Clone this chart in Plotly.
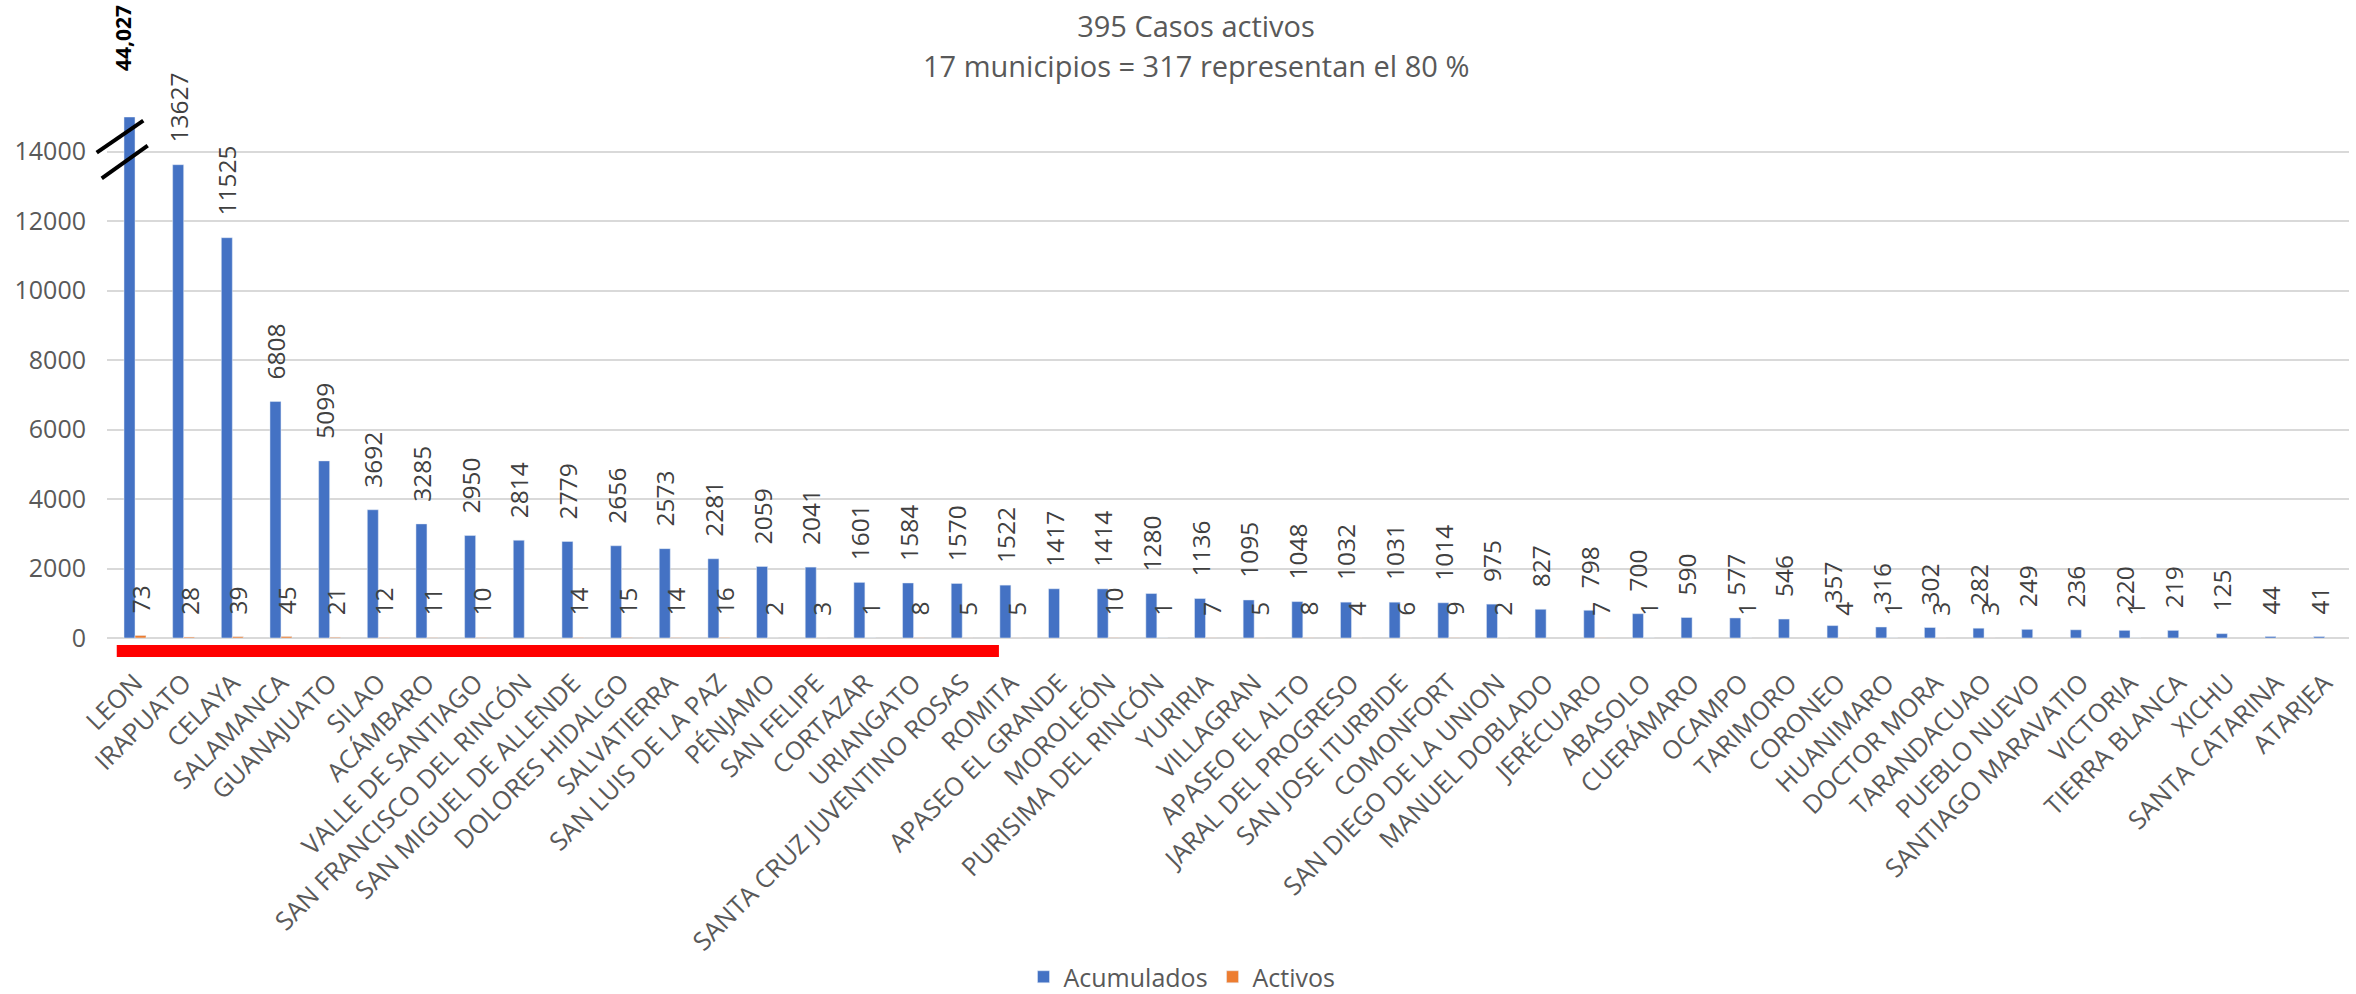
import plotly.graph_objects as go

# ---------------- data ----------------
municipios = [
    "LEON", "IRAPUATO", "CELAYA", "SALAMANCA", "GUANAJUATO", "SILAO", "ACÁMBARO",
    "VALLE DE SANTIAGO", "SAN FRANCISCO DEL RINCÓN", "SAN MIGUEL DE ALLENDE",
    "DOLORES HIDALGO", "SALVATIERRA", "SAN LUIS DE LA PAZ", "PÉNJAMO", "SAN FELIPE",
    "CORTAZAR", "URIANGATO", "SANTA CRUZ JUVENTINO ROSAS", "ROMITA", "APASEO EL GRANDE",
    "MOROLEÓN", "PURISIMA DEL RINCÓN", "YURIRIA", "VILLAGRAN", "APASEO EL ALTO",
    "JARAL DEL PROGRESO", "SAN JOSE ITURBIDE", "COMONFORT", "SAN DIEGO DE LA UNION",
    "MANUEL DOBLADO", "JERÉCUARO", "ABASOLO", "CUERÁMARO", "OCAMPO", "TARIMORO",
    "CORONEO", "HUANIMARO", "DOCTOR MORA", "TARANDACUAO", "PUEBLO NUEVO",
    "SANTIAGO MARAVATIO", "VICTORIA", "TIERRA BLANCA", "XICHU", "SANTA CATARINA", "ATARJEA",
]
acumulados = [
    44027, 13627, 11525, 6808, 5099, 3692, 3285, 2950, 2814, 2779, 2656, 2573, 2281,
    2059, 2041, 1601, 1584, 1570, 1522, 1417, 1414, 1280, 1136, 1095, 1048, 1032, 1031,
    1014, 975, 827, 798, 700, 590, 577, 546, 357, 316, 302, 282, 249, 236, 220, 219,
    125, 44, 41,
]
activos = [
    73, 28, 39, 45, 21, 12, 11, 10, None, 14, 15, 14, 16, 2, 3, 1, 8, 5, 5, None,
    10, 1, 7, 5, 8, 4, 6, 9, 2, None, 7, 1, None, 1, None, 4, 1, 3, 3, None,
    None, 1, None, None, None, None,
]
titulo_1 = "395 Casos activos"
titulo_2 = "17 municipios = 317 representan el 80 %"
y_ticks = [0, 2000, 4000, 6000, 8000, 10000, 12000, 14000]
corte_eje = 15000          # y-axis break: bars above are truncated
ultimo_80 = "ROMITA"       # red underline runs up to this municipality

# ---------------- derived ----------------
acum_plot = [min(v, corte_eje) for v in acumulados]
NB = "\u00a0\u00a0\u00a0"
acum_text = [("" if v > corte_eje else NB + str(v)) for v in acumulados]
act_text = [("" if v is None else NB + str(v)) for v in activos]

FONT = "Open Sans"
BLUE = "#4472C4"
ORANGE = "#ED7D31"
GRID = "#D9D9D9"
TXT = "#595959"
LBL = "#404040"

W, H = 2356, 994
PLOT_L, PLOT_R, PLOT_T, PLOT_B = 107, 2349, 117, 638   # page coordinates
ML, MT = PLOT_L, PLOT_T
MR = W - PLOT_R
MB = H - PLOT_B
PH = PLOT_B - PLOT_T
PW = PLOT_R - PLOT_L
n = len(municipios)

def py(page_y):
    return (PLOT_B - page_y) / PH

def px(page_x):
    return (page_x - PLOT_L) / PW

fig = go.Figure()
fig.add_trace(go.Bar(
    name="Acumulados", x=municipios, y=acum_plot, marker_color=BLUE,
    text=acum_text, textposition="outside", textangle=-90, constraintext="none",
    cliponaxis=False, textfont=dict(family=FONT, size=24.5, color=LBL),
))
fig.add_trace(go.Bar(
    name="Activos", x=municipios, y=activos, marker_color=ORANGE,
    text=act_text, textposition="outside", textangle=-90, constraintext="none",
    cliponaxis=False, textfont=dict(family=FONT, size=24.5, color=LBL),
))

# truncated bar label
for m, v in zip(municipios, acumulados):
    if v > corte_eje:
        fig.add_annotation(
            x=m, y=corte_eje, xref="x", yref="y", text="<b>{:,}</b>".format(v),
            textangle=-90, showarrow=False, yanchor="bottom", xanchor="center",
            xshift=-12, yshift=44, font=dict(family=FONT, size=21, color="black"),
        )

# second title line
fig.add_annotation(
    x=px(1196), y=py(66), xref="paper", yref="paper", text=titulo_2, showarrow=False,
    xanchor="center", yanchor="middle", font=dict(family=FONT, size=29, color=TXT),
)

# red underline for the municipalities that make up 80 %
i_end = municipios.index(ultimo_80)
fig.add_shape(
    type="rect", xref="paper", yref="paper",
    x0=(0 - 0.3 + 0.5) / n, x1=(i_end - 0.2 + 0.5) / n,
    y0=py(657), y1=py(645), fillcolor="#FF0000", line=dict(width=0),
)

# axis-break marks on the truncated bar
for (x0, y0, x1, y1) in [(96.7, 152.7, 143.3, 120.7), (101.7, 178.3, 147.7, 145.7)]:
    fig.add_shape(
        type="line", xref="paper", yref="paper",
        x0=px(x0), y0=py(y0), x1=px(x1), y1=py(y1),
        line=dict(color="black", width=4),
    )

fig.update_layout(
    width=W, height=H,
    margin=dict(l=ML, r=MR, t=MT, b=MB, autoexpand=False),
    paper_bgcolor="white", plot_bgcolor="white",
    barmode="group", bargap=0.548, bargroupgap=0,
    font=dict(family=FONT, size=24, color=TXT),
    title=dict(text=titulo_1, x=1196 / W, xanchor="center", xref="container",
               y=1 - 27 / H, yanchor="middle", yref="container",
               font=dict(family=FONT, size=29, color=TXT)),
    legend=dict(orientation="h", x=px(1182), xanchor="center", y=py(977),
                yanchor="middle", font=dict(family=FONT, size=25, color=TXT),
                bgcolor="rgba(0,0,0,0)"),
    showlegend=True,
)
fig.update_xaxes(type="category", tickangle=-45, showgrid=False, showline=False,
                 ticks="", ticklabelstandoff=24,
                 tickfont=dict(family=FONT, size=25.5, color=TXT))
fig.update_yaxes(range=[0, corte_eje], tickvals=y_ticks, tickformat="d",
                 showgrid=True, gridcolor=GRID,
                 gridwidth=2, zeroline=True, zerolinecolor=GRID, zerolinewidth=2,
                 showline=False, ticks="", ticklabelstandoff=20,
                 tickfont=dict(family=FONT, size=25, color=TXT))

# remove the default 8px body margin so the figure fills the page exactly
fig.write_html("out.html", config={"displayModeBar": False},
               post_script="document.body.style.margin='0';")
